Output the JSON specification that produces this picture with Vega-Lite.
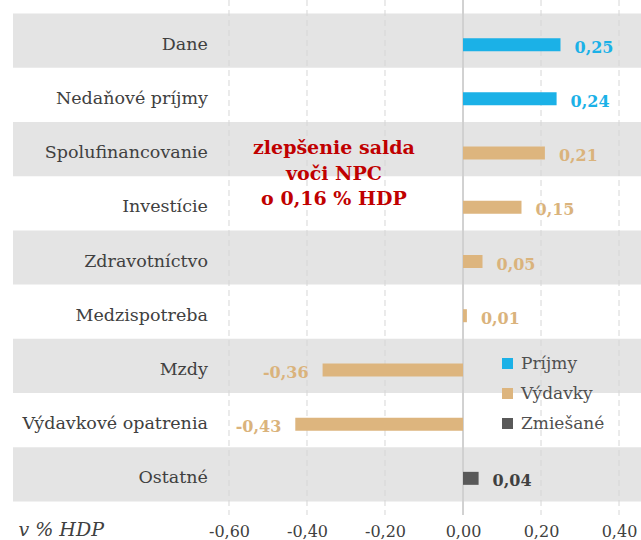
{
  "$schema": "https://vega.github.io/schema/vega-lite/v6.json",
  "width": 628,
  "height": 515,
  "autosize": "none",
  "padding": {"left": 13, "top": 0, "right": 0, "bottom": 25},
  "background": "white",
  "config": {
    "view": {"stroke": null},
    "locale": {"number": {"decimal": ",", "thousands": " ", "grouping": [3], "currency": ["", " €"], "minus": "-"}}
  },
  "resolve": {"scale": {"color": "independent"}},
  "datasets": {
    "main": [
      {"kategoria": "Dane", "hodnota": 0.25, "typ": "Príjmy"},
      {"kategoria": "Nedaňové príjmy", "hodnota": 0.24, "typ": "Príjmy"},
      {"kategoria": "Spolufinancovanie", "hodnota": 0.21, "typ": "Výdavky"},
      {"kategoria": "Investície", "hodnota": 0.15, "typ": "Výdavky"},
      {"kategoria": "Zdravotníctvo", "hodnota": 0.05, "typ": "Výdavky"},
      {"kategoria": "Medzispotreba", "hodnota": 0.01, "typ": "Výdavky"},
      {"kategoria": "Mzdy", "hodnota": -0.36, "typ": "Výdavky"},
      {"kategoria": "Výdavkové opatrenia", "hodnota": -0.43, "typ": "Výdavky"},
      {"kategoria": "Ostatné", "hodnota": 0.04, "typ": "Zmiešané"}
    ],
    "grid": [{"v": -0.6}, {"v": -0.4}, {"v": -0.2}, {"v": 0.2}, {"v": 0.4}]
  },
  "layer": [
    {
      "data": {"name": "main"},
      "transform": [
        {"window": [{"op": "row_number", "as": "rn"}]},
        {"filter": "datum.rn % 2 == 1"}
      ],
      "mark": {"type": "bar", "color": "#E4E4E4"},
      "encoding": {
        "y": {
          "field": "kategoria", "type": "nominal", "sort": null,
          "scale": {
            "domain": ["Dane", "Nedaňové príjmy", "Spolufinancovanie", "Investície", "Zdravotníctvo", "Medzispotreba", "Mzdy", "Výdavkové opatrenia", "Ostatné"],
            "paddingInner": 0, "paddingOuter": 0.25
          },
          "axis": null
        },
        "x": {
          "datum": -1.1538, "type": "quantitative",
          "scale": {"domain": [-1.1538, 0.4564], "nice": false, "zero": false},
          "axis": {
            "values": [-0.6, -0.4, -0.2, 0, 0.2, 0.4],
            "format": ".2f",
            "grid": false, "domain": false, "ticks": false, "tickSize": 0,
            "labelFont": "DejaVu Serif", "labelFontSize": 16, "labelColor": "#404040",
            "labelPadding": 8,
            "title": "v % HDP",
            "titleFont": "DejaVu Serif", "titleFontSize": 19, "titleFontStyle": "italic",
            "titleFontWeight": "normal", "titleColor": "#404040",
            "titleAnchor": "start", "titleAlign": "left", "titleBaseline": "alphabetic",
            "titleX": 5, "titleY": 20
          }
        },
        "x2": {"datum": 0.4564}
      }
    },
    {
      "data": {"name": "grid"},
      "mark": {"type": "rule", "color": "#D6D6D6", "strokeDash": [6, 4], "strokeWidth": 1},
      "encoding": {"x": {"field": "v", "type": "quantitative"}}
    },
    {
      "data": {"name": "grid"},
      "mark": {"type": "rule", "color": "#D0D0D0", "strokeWidth": 1},
      "encoding": {"x": {"datum": 0, "type": "quantitative"}}
    },
    {
      "data": {"name": "main"},
      "mark": {"type": "bar", "size": 13, "yOffset": 4},
      "encoding": {
        "y": {"field": "kategoria", "type": "nominal", "sort": null},
        "x": {"field": "hodnota", "type": "quantitative"},
        "x2": {"datum": 0},
        "color": {
          "field": "typ", "type": "nominal",
          "scale": {"domain": ["Príjmy", "Výdavky", "Zmiešané"], "range": ["#1BB1E7", "#DDB57E", "#595959"]},
          "legend": {
            "orient": "none", "legendX": 486, "legendY": 355, "title": null,
            "symbolType": "square", "symbolSize": 121, "symbolStrokeWidth": 0,
            "labelFont": "DejaVu Serif", "labelFontSize": 17, "labelColor": "#505050",
            "labelOffset": 5, "rowPadding": 12
          }
        }
      }
    },
    {
      "data": {"name": "main"},
      "transform": [{"filter": "datum.hodnota >= 0"}],
      "mark": {"type": "text", "align": "left", "baseline": "middle", "dx": 14, "dy": 7, "font": "DejaVu Serif", "fontSize": 16, "fontWeight": "bold"},
      "encoding": {
        "y": {"field": "kategoria", "type": "nominal", "sort": null},
        "x": {"field": "hodnota", "type": "quantitative"},
        "text": {"field": "hodnota", "type": "quantitative", "format": ".2f"},
        "color": {
          "field": "typ", "type": "nominal", "legend": null,
          "scale": {"domain": ["Príjmy", "Výdavky", "Zmiešané"], "range": ["#1BB1E7", "#DAB37C", "#404040"]}
        }
      }
    },
    {
      "data": {"name": "main"},
      "transform": [{"filter": "datum.hodnota < 0"}],
      "mark": {"type": "text", "align": "right", "baseline": "middle", "dx": -14, "dy": 7, "font": "DejaVu Serif", "fontSize": 16, "fontWeight": "bold", "color": "#DAB37C"},
      "encoding": {
        "y": {"field": "kategoria", "type": "nominal", "sort": null},
        "x": {"field": "hodnota", "type": "quantitative"},
        "text": {"field": "hodnota", "type": "quantitative", "format": ".2f"}
      }
    },
    {
      "data": {"name": "main"},
      "mark": {"type": "text", "align": "right", "baseline": "middle", "dy": 4, "font": "DejaVu Serif", "fontSize": 17.5, "color": "#404040"},
      "encoding": {
        "y": {"field": "kategoria", "type": "nominal", "sort": null},
        "x": {"datum": -0.654, "type": "quantitative"},
        "text": {"field": "kategoria", "type": "nominal"}
      }
    },
    {
      "data": {"values": [{}]},
      "mark": {
        "type": "text", "align": "center", "baseline": "middle", "dy": -1,
        "font": "DejaVu Serif", "fontSize": 19, "fontWeight": "bold", "color": "#C00000",
        "lineHeight": 25.5,
        "text": ["zlepšenie  salda", "voči NPC", "o 0,16 % HDP"]
      },
      "encoding": {
        "y": {"datum": "Spolufinancovanie", "type": "nominal"},
        "x": {"datum": -0.331, "type": "quantitative"}
      }
    }
  ]
}
